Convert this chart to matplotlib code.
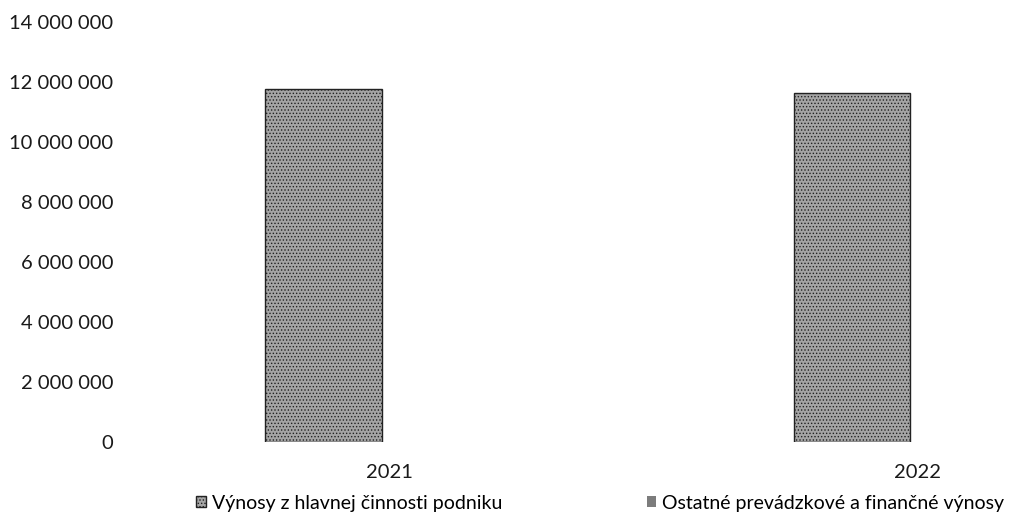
import matplotlib
matplotlib.use("Agg")
import matplotlib.pyplot as plt
from matplotlib.ticker import FuncFormatter
import numpy as np

plt.rcParams['font.family'] = ['Lato', 'DejaVu Sans']
plt.rcParams['hatch.color'] = '#333333'
plt.rcParams['hatch.linewidth'] = 0.6

years = ['2021', '2022']
hlavna = [11750000, 11620000]   # Výnosy z hlavnej činnosti podniku
ostatne = [0, 0]                # Ostatné prevádzkové a finančné výnosy (v grafe nie sú viditeľné)
labels = ['Výnosy z hlavnej činnosti podniku', 'Ostatné prevádzkové a finančné výnosy']
yticks = np.arange(0, 14000001, 2000000)

fig = plt.figure(figsize=(10.21, 5.21), dpi=100)
ax = fig.add_axes([0.127, 0.152, 0.862, 0.806])

x = np.arange(len(years))
w = 0.22
b1 = ax.bar(x - 0.125, hlavna, width=w, color='#a5a5a5', edgecolor='#222222',
            linewidth=1.0, hatch='.....', label=labels[0])
b2 = ax.bar(x + 0.105, ostatne, width=w, color='#7c7c7c', edgecolor='none',
            hatch='.....', label=labels[1])

ax.set_xlim(-0.492, 1.174)
ax.set_ylim(0, 14000000)
ax.set_yticks(yticks)
ax.yaxis.set_major_formatter(FuncFormatter(lambda v, p: '{:,.0f}'.format(v).replace(',', ' ')))
ax.set_xticks(x)
ax.set_xticklabels(years)
for s in ax.spines.values():
    s.set_visible(False)
ax.tick_params(axis='both', length=0, labelsize=14.5, colors='#1a1a1a')
ax.tick_params(axis='y', pad=12)
ax.tick_params(axis='x', pad=16)

# two legend entries, one under each year like in the original
for h, lab, x0 in [(b1, labels[0], 0.177), (b2, labels[1], 0.618)]:
    fig.legend(handles=[h], labels=[lab], loc='lower left', bbox_to_anchor=(x0, -0.012),
               frameon=False, fontsize=14, handlelength=0.5, handleheight=0.5,
               handletextpad=0.3, borderpad=0.3)

fig.savefig('out.png', dpi=100)
